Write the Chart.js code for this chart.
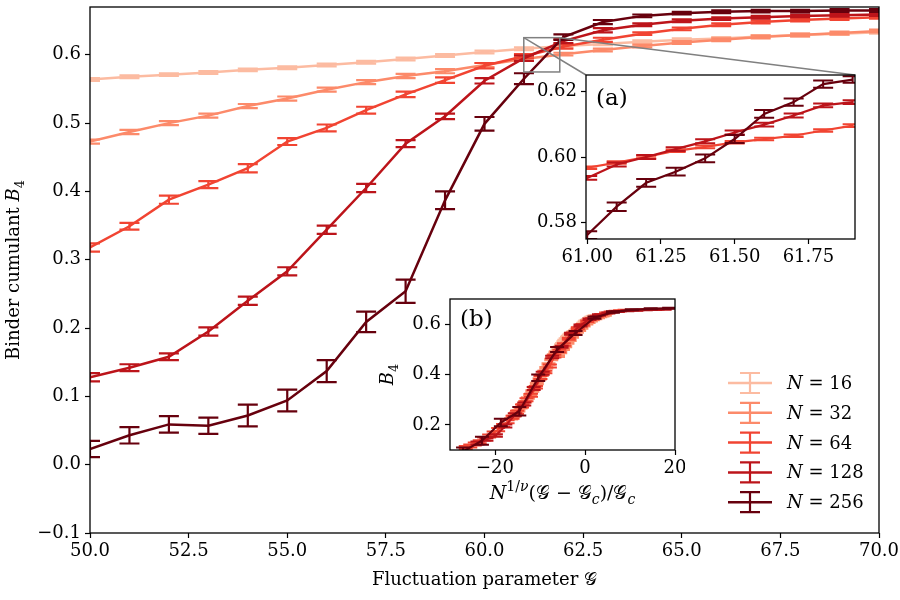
<!DOCTYPE html>
<html><head><meta charset="utf-8">
<script src="https://cdn.jsdelivr.net/npm/chart.js@4.4.1/dist/chart.umd.min.js"></script>
<style>
html,body{margin:0;padding:0;background:#fff;}
#wrap{position:relative;width:900px;height:600px;overflow:hidden;}
canvas{position:absolute;}
</style></head><body>
<div id="wrap">
<canvas id="main" width="900" height="600"></canvas>
<canvas id="insA" width="350" height="215"></canvas>
<canvas id="insB" width="315" height="230"></canvas>
</div>
<script>
// ---------------- data ----------------
const sizes = [16, 32, 64, 128, 256];
const G = [50,51,52,53,54,55,56,57,58,59,60,61,62,63,64,65,66,67,68,69,70];
const B16  = [0.564,0.568,0.571,0.574,0.578,0.581,0.585,0.589,0.594,0.599,0.604,0.609,0.613,0.616,0.619,0.622,0.624,0.627,0.629,0.631,0.633];
const B32  = [0.473,0.487,0.500,0.511,0.525,0.536,0.549,0.560,0.569,0.576,0.585,0.594,0.601,0.607,0.613,0.618,0.622,0.626,0.629,0.632,0.635];
const B64  = [0.318,0.349,0.388,0.410,0.434,0.473,0.493,0.519,0.542,0.563,0.584,0.598,0.612,0.622,0.631,0.638,0.644,0.648,0.651,0.653,0.655];
const B128 = [0.128,0.142,0.158,0.195,0.240,0.283,0.344,0.405,0.470,0.510,0.562,0.595,0.620,0.636,0.644,0.650,0.653,0.655,0.657,0.658,0.659];
const B256 = [0.023,0.043,0.059,0.057,0.072,0.094,0.137,0.209,0.254,0.387,0.499,0.565,0.626,0.648,0.657,0.661,0.663,0.664,0.664,0.665,0.665];
const E16  = [0.002,0.002,0.002,0.002,0.002,0.002,0.002,0.002,0.002,0.002,0.002,0.002,0.002,0.002,0.002,0.002,0.002,0.002,0.002,0.002,0.002];
const E32  = [0.003,0.003,0.003,0.003,0.003,0.003,0.003,0.003,0.003,0.003,0.003,0.003,0.002,0.002,0.002,0.002,0.002,0.002,0.002,0.002,0.002];
const E64  = [0.006,0.005,0.006,0.005,0.006,0.005,0.005,0.005,0.004,0.004,0.004,0.003,0.003,0.003,0.002,0.002,0.002,0.002,0.002,0.002,0.002];
const E128 = [0.006,0.005,0.005,0.006,0.006,0.006,0.006,0.006,0.005,0.004,0.004,0.004,0.003,0.003,0.002,0.002,0.002,0.002,0.002,0.002,0.002];
const E256 = [0.012,0.012,0.012,0.012,0.016,0.016,0.016,0.015,0.017,0.013,0.010,0.008,0.004,0.003,0.002,0.002,0.002,0.002,0.002,0.002,0.002];

// inset (a): zoom near the crossing
const Gz   = [61.0,61.1,61.2,61.3,61.4,61.5,61.6,61.7,61.8,61.9];
const Z64  = [0.5967,0.5983,0.6000,0.6019,0.6031,0.6045,0.6055,0.6065,0.6081,0.6096];
const Z128 = [0.5936,0.5977,0.6000,0.6024,0.6048,0.6075,0.6099,0.6127,0.6158,0.6168];
const Z256 = [0.5761,0.5848,0.5921,0.5955,0.5996,0.6055,0.6132,0.6168,0.6223,0.6237];
const ZE64  = [0.0004,0.0004,0.0004,0.0004,0.0004,0.0004,0.0004,0.0004,0.0004,0.0004];
const ZE128 = [0.0006,0.0006,0.0006,0.0006,0.0006,0.0006,0.0006,0.0006,0.0006,0.0006];
const ZE256 = [0.0012,0.0013,0.0012,0.0012,0.0012,0.0012,0.0012,0.0011,0.0011,0.0010];

// inset (b): scaled abscissa N^(1/nu)(G-Gc)/Gc for each G above
const X16  = [-3.0,-2.7,-2.5,-2.2,-1.9,-1.7,-1.4,-1.2,-0.9,-0.7,-0.4,-0.1,0.1,0.4,0.7,0.9,1.2,1.4,1.7,1.9,2.2];
const X32  = [-6.0,-5.5,-4.9,-4.4,-3.9,-3.4,-2.9,-2.3,-1.8,-1.3,-0.8,-0.3,0.3,0.8,1.3,1.8,2.3,2.9,3.4,3.9,4.4];
const X64  = [-12.0,-10.9,-9.9,-8.8,-7.8,-6.8,-5.7,-4.7,-3.6,-2.6,-1.6,-0.5,0.5,1.6,2.6,3.6,4.7,5.7,6.8,7.8,8.8];
const X128 = [-23.9,-21.9,-19.8,-17.7,-15.6,-13.5,-11.4,-9.4,-7.3,-5.2,-3.1,-1.0,1.0,3.1,5.2,7.3,9.4,11.4,13.5,15.6,17.7];
const X256 = [-47.9,-43.7,-39.5,-35.4,-31.2,-27.1,-22.9,-18.7,-14.6,-10.4,-6.2,-2.1,2.1,6.2,10.4,14.6,18.7,22.9,27.1,31.2,35.4];
// extra points of the small systems that only appear in the collapse (below the main plot's x range)
const X16lo = [-7.2,-6.9,-6.6,-6.4,-6.1,-5.9,-5.6,-5.3,-5.1,-4.8,-4.6,-4.3,-4.0,-3.8,-3.5,-3.3];
const B16lo = [0.470,0.478,0.485,0.490,0.497,0.503,0.510,0.518,0.523,0.530,0.536,0.542,0.548,0.552,0.557,0.561];
const X32lo = [-16.4,-15.9,-15.3,-14.8,-14.3,-13.8,-13.3,-12.7,-12.2,-11.7,-11.2,-10.7,-10.1,-9.6,-9.1,-8.6,-8.1,-7.5,-7.0,-6.5];
const B32lo = [0.224,0.234,0.246,0.256,0.268,0.280,0.292,0.307,0.320,0.334,0.349,0.364,0.382,0.397,0.412,0.427,0.442,0.460,0.475,0.488];
const X64lo = [-26.5,-25.5,-24.5,-23.4,-22.4,-21.3,-20.3,-19.3,-18.2,-17.2,-16.1,-15.1,-14.0,-13.0];
const B64lo = [0.110,0.116,0.124,0.133,0.144,0.156,0.168,0.181,0.197,0.212,0.230,0.250,0.275,0.300];

// tick labels
const xTicksMain = [50,52.5,55,57.5,60,62.5,65,67.5,70];
const yTicksMain = [-0.1,0,0.1,0.2,0.3,0.4,0.5,0.6];
const xTicksA = [61.00,61.25,61.50,61.75];
const yTicksA = [0.58,0.60,0.62];
const xTicksB = [-20,0,20];
const yTicksB = [0.2,0.4,0.6];

// ---------------- styling ----------------
const colors = ['#fcbba1','#fc8a6a','#f14432','#bc141a','#67000d'];
const FF = "'DejaVu Serif', 'DejaVu Sans', serif";
const TICK = 18;
const posA = {left:520, top:60};
const posB = {left:370, top:285};
document.getElementById('main').style.cssText = 'left:0px;top:0px';
document.getElementById('insA').style.cssText = `left:${posA.left}px;top:${posA.top}px`;
document.getElementById('insB').style.cssText = `left:${posB.left}px;top:${posB.top}px`;

const fmtMinus = (v, d) => (v < 0 ? '\u2212' : '') + Math.abs(v).toFixed(d);

function drawRich(ctx, segs, x, y, size, align) {
  const fontFor = s => `${s.it ? 'italic ' : ''}${s.pos ? Math.round(size * 0.72) : size}px ${FF}`;
  let w = 0;
  segs.forEach(s => { ctx.font = fontFor(s); w += ctx.measureText(s.t).width; });
  let cx = align === 'center' ? x - w / 2 : x;
  ctx.textAlign = 'left'; ctx.textBaseline = 'alphabetic'; ctx.fillStyle = '#000';
  segs.forEach(s => {
    ctx.font = fontFor(s);
    const dy = s.pos === 1 ? -size * 0.42 : s.pos === -1 ? size * 0.25 : 0;
    ctx.fillText(s.t, cx, y + dy);
    cx += ctx.measureText(s.t).width;
  });
}

const errorBarPlugin = {
  id: 'errbars',
  afterDatasetDraw(chart, args) {
    const ds = chart.data.datasets[args.index];
    if (!ds.errs) return;
    const ctx = chart.ctx, ca = chart.chartArea, ys = chart.scales.y;
    ctx.save();
    ctx.beginPath(); ctx.rect(ca.left, ca.top, ca.right - ca.left, ca.bottom - ca.top); ctx.clip();
    ctx.strokeStyle = ds.borderColor; ctx.lineWidth = ds.errWidth;
    const cw = ds.capHalf;
    args.meta.data.forEach((pt, i) => {
      const v = ds.data[i].y, e = ds.errs[i];
      const y1 = ys.getPixelForValue(v + e), y2 = ys.getPixelForValue(v - e), x = pt.x;
      ctx.beginPath();
      ctx.moveTo(x, y1); ctx.lineTo(x, y2);
      ctx.moveTo(x - cw, y1); ctx.lineTo(x + cw, y1);
      ctx.moveTo(x - cw, y2); ctx.lineTo(x + cw, y2);
      ctx.stroke();
    });
    ctx.restore();
  }
};
const framePlugin = {
  id: 'frame',
  afterDraw(chart) {
    const { ctx, chartArea: ca } = chart;
    ctx.save(); ctx.strokeStyle = '#000'; ctx.lineWidth = 1.3;
    ctx.strokeRect(ca.left, ca.top, ca.right - ca.left, ca.bottom - ca.top);
    ctx.restore();
  }
};
const areaBg = {
  id: 'areabg',
  beforeDraw(chart) {
    const { ctx, chartArea: ca } = chart;
    ctx.save(); ctx.fillStyle = '#fff';
    ctx.fillRect(ca.left, ca.top, ca.right - ca.left, ca.bottom - ca.top);
    ctx.restore();
  }
};

function axisCfg(min, max, ticksArr, dec, fitKey, fitVal, pad) {
  return {
    type: 'linear', min, max,
    afterFit(s) {
      s[fitKey] = fitVal;
      s.paddingTop = 0; s.paddingBottom = 0; s.paddingLeft = 0; s.paddingRight = 0;
    },
    afterBuildTicks(s) { s.ticks = ticksArr.map(v => ({ value: v })); },
    ticks: { callback: v => fmtMinus(v, dec), font: { family: FF, size: TICK }, color: '#000', padding: pad, maxRotation: 0, autoSkip: false },
    grid: { display: true, drawOnChartArea: false, drawTicks: true, tickLength: 5, tickColor: '#000', tickWidth: 1.2 },
    border: { display: false }
  };
}
function ds(xs, ys, es, ci, order, lw, ew, cap) {
  return {
    data: xs.map((x, i) => ({ x, y: ys[i] })), errs: es,
    borderColor: colors[ci], backgroundColor: colors[ci], borderWidth: lw,
    errWidth: ew, capHalf: cap, pointRadius: 0, tension: 0, order, clip: 0
  };
}
const baseOpts = {
  responsive: false, animation: false, devicePixelRatio: 1,
  plugins: { legend: { display: false }, tooltip: { enabled: false } },
  events: []
};

// ---------------- inset (a) ----------------
const insetA = new Chart(document.getElementById('insA'), {
  type: 'line',
  data: { datasets: [
    ds(Gz, Z64, ZE64, 2, 3, 2.2, 2, 10),
    ds(Gz, Z128, ZE128, 3, 2, 2.2, 2, 10),
    ds(Gz, Z256, ZE256, 4, 1, 2.2, 2, 10)
  ] },
  options: Object.assign({}, baseOpts, {
    layout: { padding: { left: 0, top: 15, right: 15, bottom: 0 } },
    scales: {
      x: axisCfg(60.996, 61.908, xTicksA, 2, 'height', 36, 3),
      y: axisCfg(0.5749, 0.6251, yTicksA, 2, 'width', 66, 4)
    }
  }),
  plugins: [areaBg, errorBarPlugin, framePlugin, {
    id: 'labA', afterDraw(chart) {
      const ca = chart.chartArea;
      drawRich(chart.ctx, [{ t: '(a)' }], ca.left + 10, ca.top + 30, 23, 'left');
    }
  }]
});

// ---------------- inset (b) ----------------
const lows = { 0: [X16lo, B16lo], 1: [X32lo, B32lo], 2: [X64lo, B64lo] };
const Xs = [X16, X32, X64, X128, X256], Bs = [B16, B32, B64, B128, B256], Es = [E16, E32, E64, E128, E256];
const insetB = new Chart(document.getElementById('insB'), {
  type: 'line',
  data: { datasets: sizes.map((n, i) => {
    const lo = lows[i] || [[], []];
    const loErr = lo[0].map(() => Es[i][0]);
    return ds(lo[0].concat(Xs[i]), lo[1].concat(Bs[i]), loErr.concat(Es[i]), i, sizes.length - i, 2.2, 2, 7);
  }) },
  options: Object.assign({}, baseOpts, {
    layout: { padding: { left: 0, top: 14, right: 10, bottom: 0 } },
    scales: {
      x: axisCfg(-30, 20, xTicksB, 0, 'height', 65, 3),
      y: axisCfg(0.1, 0.7, yTicksB, 1, 'width', 80, 4)
    }
  }),
  plugins: [areaBg, errorBarPlugin, framePlugin, {
    id: 'labB', afterDraw(chart) {
      const ctx = chart.ctx, ca = chart.chartArea;
      drawRich(ctx, [{ t: '(b)' }], ca.left + 10, ca.top + 27, 23, 'left');
      drawRich(ctx, [{ t: 'N', it: true }, { t: '1/', pos: 1 }, { t: '\u03BD', it: true, pos: 1 }, { t: '(\uD835\uDCA2 \u2212 \uD835\uDCA2' }, { t: 'c', it: true, pos: -1 }, { t: ')/\uD835\uDCA2' }, { t: 'c', it: true, pos: -1 }],
        (ca.left + ca.right) / 2, ca.bottom + 49, 19, 'center');
      ctx.save();
      ctx.translate(ca.left - 63, (ca.top + ca.bottom) / 2);
      ctx.rotate(-Math.PI / 2);
      drawRich(ctx, [{ t: 'B', it: true }, { t: '4', pos: -1 }], 0, 6, TICK, 'center');
      ctx.restore();
    }
  }]
});

// ---------------- main chart ----------------
const mainChart = new Chart(document.getElementById('main'), {
  type: 'line',
  data: { datasets: sizes.map((n, i) => ds(G, Bs[i], Es[i], i, sizes.length - i, 2.5, 2.2, 10)) },
  options: Object.assign({}, baseOpts, {
    layout: { padding: { left: 0, top: 7, right: 21, bottom: 0 } },
    scales: {
      x: axisCfg(50, 70, xTicksMain, 1, 'height', 67, 3),
      y: axisCfg(-0.1, 0.67, yTicksMain, 1, 'width', 90, 4)
    }
  }),
  plugins: [{
    id: 'bg', beforeDraw(chart) { const c = chart.ctx; c.save(); c.fillStyle = '#fff'; c.fillRect(0, 0, chart.width, chart.height); c.restore(); }
  }, errorBarPlugin, {
    id: 'zoombox', afterDatasetsDraw(chart) {
      const ctx = chart.ctx, xs = chart.scales.x, ys = chart.scales.y;
      const sa = insetA.scales, caA = insetA.chartArea;
      const l = xs.getPixelForValue(sa.x.min), r = xs.getPixelForValue(sa.x.max);
      const t = ys.getPixelForValue(sa.y.max), b = ys.getPixelForValue(sa.y.min);
      ctx.save(); ctx.strokeStyle = '#808080'; ctx.lineWidth = 1.5;
      ctx.strokeRect(l, t, r - l, b - t);
      ctx.beginPath();
      ctx.moveTo(l, t); ctx.lineTo(posA.left + caA.left, posA.top + caA.top);
      ctx.moveTo(r, t); ctx.lineTo(posA.left + caA.right, posA.top + caA.top);
      ctx.stroke(); ctx.restore();
    }
  }, framePlugin, {
    id: 'labels', afterDraw(chart) {
      const ctx = chart.ctx, ca = chart.chartArea;
      drawRich(ctx, [{ t: 'Fluctuation parameter ' }, { t: '\uD835\uDCA2' }], (ca.left + ca.right) / 2, ca.bottom + 52, TICK, 'center');
      ctx.save();
      ctx.translate(13, (ca.top + ca.bottom) / 2);
      ctx.rotate(-Math.PI / 2);
      drawRich(ctx, [{ t: 'Binder cumulant ' }, { t: 'B', it: true }, { t: '4', pos: -1 }], 0, 6, TICK, 'center');
      ctx.restore();
      // legend
      const lx = ca.right - 129, tx = ca.right - 92;
      sizes.forEach((n, i) => {
        const y = 383 + i * 29.8;
        ctx.save(); ctx.strokeStyle = colors[i];
        ctx.lineWidth = 2.5; ctx.beginPath(); ctx.moveTo(lx - 22, y); ctx.lineTo(lx + 22, y); ctx.stroke();
        ctx.lineWidth = 2.2; ctx.beginPath();
        ctx.moveTo(lx, y - 10); ctx.lineTo(lx, y + 10);
        ctx.moveTo(lx - 10, y - 10); ctx.lineTo(lx + 10, y - 10);
        ctx.moveTo(lx - 10, y + 10); ctx.lineTo(lx + 10, y + 10);
        ctx.stroke(); ctx.restore();
        drawRich(ctx, [{ t: 'N', it: true }, { t: ' = ' + n }], tx, y + 6, TICK, 'left');
      });
    }
  }]
});
</script>
</body></html>
